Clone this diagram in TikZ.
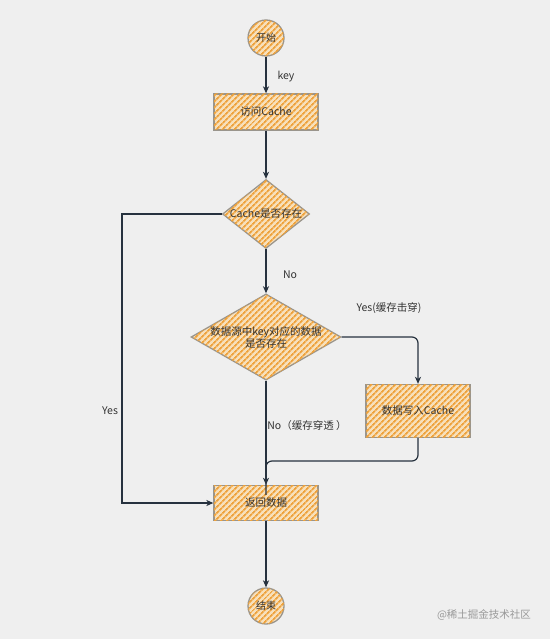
\documentclass[tikz,border=0pt]{standalone}
\usepackage{fontspec}
\setmainfont{Liberation Sans}
\newfontfamily\cjk{Noto Sans CJK SC}
\usetikzlibrary{shapes.geometric,patterns.meta,arrows.meta}
\definecolor{bgc}{HTML}{EFEFEF}
\definecolor{hatchbg}{HTML}{F7E0BB}
\definecolor{hatch}{HTML}{EEA23C}
\definecolor{edge}{HTML}{9A958C}
\definecolor{arr}{HTML}{27323F}
\definecolor{txt}{HTML}{333333}
\tikzset{
  sketch/.style={draw=edge, line width=1.3pt, fill=hatchbg,
    postaction={pattern={Lines[angle=45,distance=4pt,line width=1.8pt]}, pattern color=hatch},
    text=txt, font=\cjk\fontsize{10.5}{12}\selectfont, align=center, inner sep=0pt},
  procbox/.style={sketch, rectangle, minimum width=104pt, minimum height=36pt},
  decision/.style={sketch, diamond},
  terminal/.style={sketch, circle, minimum size=36pt, font=\cjk\fontsize{10}{12}\selectfont},
  conn/.style={draw=arr, line width=1.2pt, -{Stealth[length=7pt,width=6pt,inset=2pt]}},
  plainconn/.style={draw=arr, line width=1.2pt},
  lbl/.style={text=txt, font=\cjk\fontsize{10.5}{12}\selectfont, inner sep=1pt}
}
\begin{document}
\begin{tikzpicture}[x=1pt,y=-1pt]
\fill[bgc] (0,0) rectangle (550,639);
\useasboundingbox (0,0) rectangle (550,639);

\node[terminal] (start) at (266,38) {开始};
\node[procbox] (visit) at (266,112) {访问Cache};
\node[decision, minimum width=87pt, minimum height=69pt, aspect=1.26] (d1) at (266,214) {Cache是否存在};
\node[decision, minimum width=148pt, minimum height=85pt, aspect=1.74, text width=112pt] (d2) at (266,337) {数据源中key对应的数据\\是否存在};
\node[procbox, minimum height=53pt] (write) at (418,411) {数据写入Cache};
\node[procbox, minimum height=35pt] (ret) at (266,503) {返回数据};
\node[terminal] (end) at (266,606) {结束};

\coordinate (yl1) at (122,214);
\coordinate (yl2) at (122,503);
\coordinate (yr1) at (418,337);
\coordinate (wr1) at (418,461);
\coordinate (wr2) at (266,461);

\draw[conn] (start) -- (visit);
\draw[conn] (visit) -- (d1);
\draw[conn] (d1) -- (d2);
\draw[conn] (d1.west) -- (yl1) -- (yl2) -- (ret.west);
\draw[conn, rounded corners=6pt] (d2.east) -- (yr1) -- (write.north);
\draw[conn] (d2.south) -- (ret.north);
\draw[plainconn, rounded corners=6pt] (write.south) -- (wr1) -- (wr2) -- ([yshift=-10pt]ret.north);
\draw[conn] (ret) -- (end);

\node[lbl] (lkey) at (286,77) {key};
\node[lbl] (lno1) at (290,275) {No};
\node[lbl] (lyes2) at (389,308) {Yes(缓存击穿)};
\node[lbl] (lyes1) at (110,411) {Yes};
\node[lbl] (lno2) at (307,426) {No（缓存穿透 ）};
\node[lbl, text=gray!80, font=\cjk\fontsize{10.5}{12}\selectfont] (wm) at (484,615) {@稀土掘金技术社区};
\end{tikzpicture}
\end{document}
